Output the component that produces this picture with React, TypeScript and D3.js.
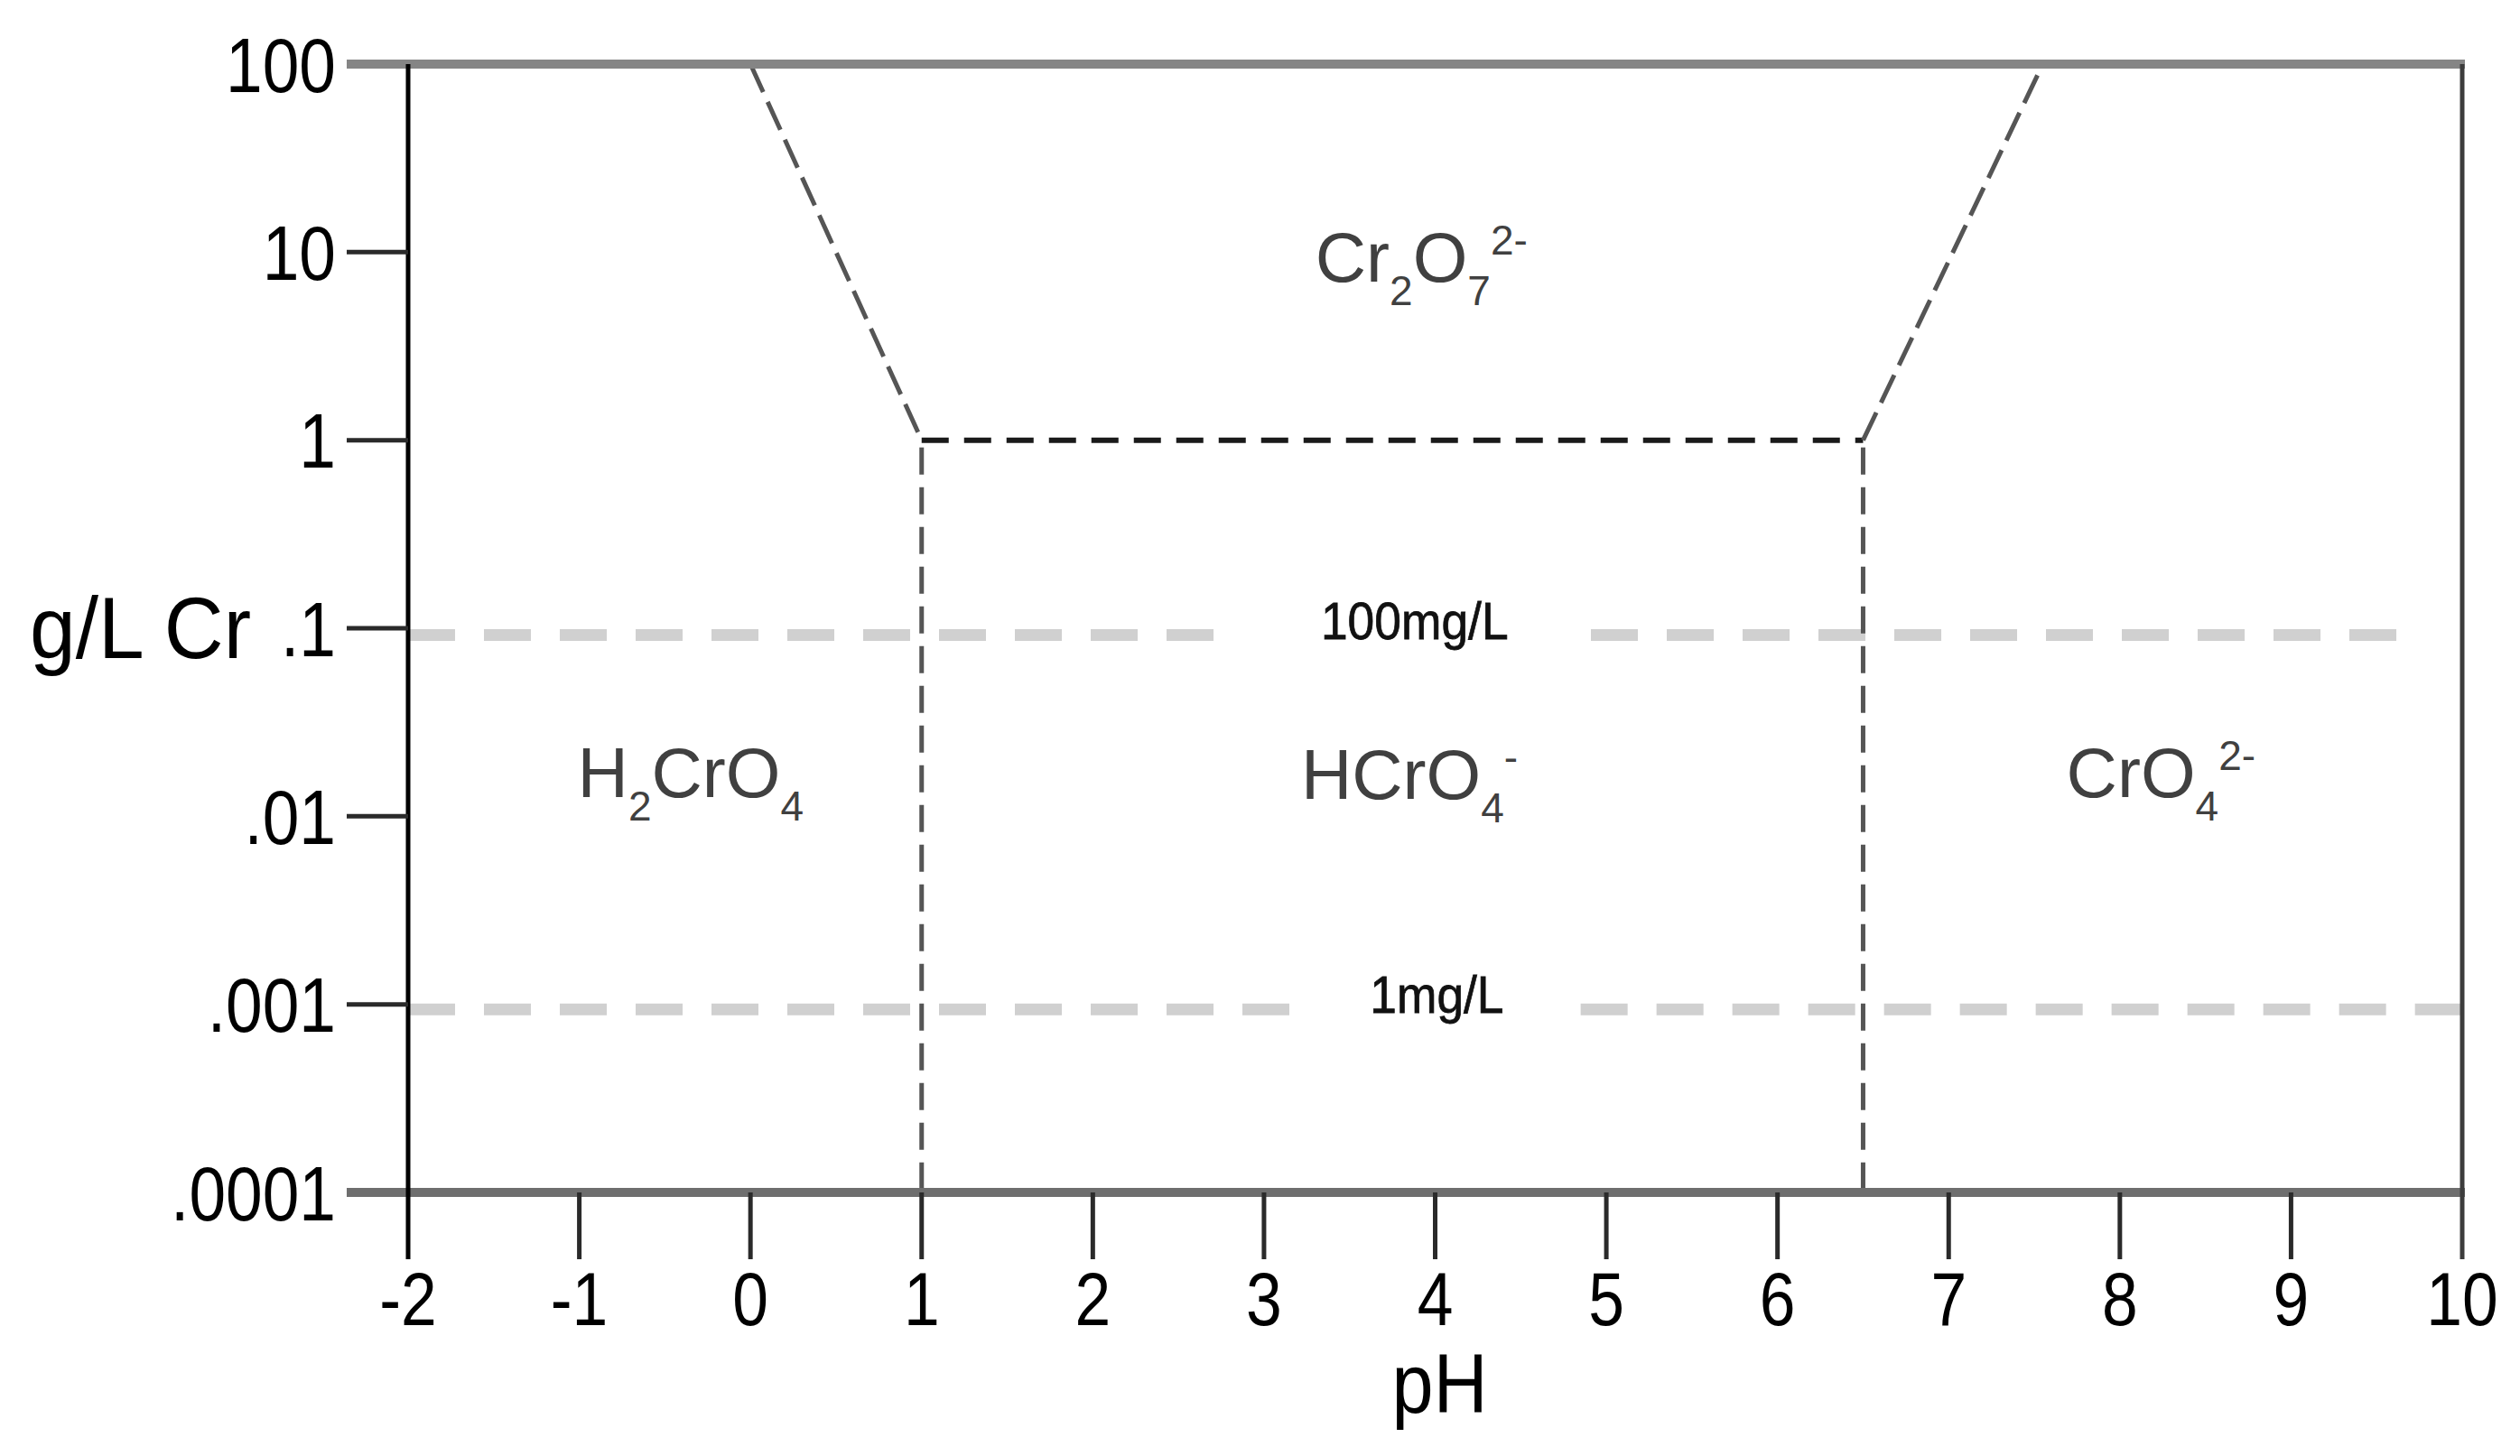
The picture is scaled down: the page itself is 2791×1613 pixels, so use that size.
import { scaleLinear, scaleLog } from "d3";

// axis ticks
const phTicks = [-2, -1, 0, 1, 2, 3, 4, 5, 6, 7, 8, 9, 10];
const concTicks = [100, 10, 1, 0.1, 0.01, 0.001, 0.0001];
const concLabels = ["100", "10", "1", ".1", ".01", ".001", ".0001"];

// Cr2O7 field boundary (pH, g/L Cr)
const dichromateEdge: [number, number][] = [
  [0, 100],
  [1, 1],
  [6.5, 1],
  [7.55, 100],
];
// vertical boundaries below 1 g/L
const acidEdges = [1, 6.5];
const acidEdgeTop = 1;
const acidEdgeBottom = 0.0001;

// reference concentration lines
const refLevels = [0.092, 0.00094];
const refLabels = ["100mg/L", "1mg/L"];
const refLabelPh = [3.88, 4.01];
const refSegments: [number, number][][] = [
  [
    [-2, 2.83],
    [4.91, 9.77],
  ],
  [
    [-2, 3.26],
    [4.85, 10.08],
  ],
];

// species labels: text parts ("" normal, "sub", "sup"), pH and g/L of baseline
const speciesParts: [string, string][][] = [
  [["H", ""], ["2", "sub"], ["CrO", ""], ["4", "sub"]],
  [["HCrO", ""], ["4", "sub"], ["-", "sup"]],
  [["CrO", ""], ["4", "sub"], ["2-", "sup"]],
  [["Cr", ""], ["2", "sub"], ["O", ""], ["7", "sub"], ["2-", "sup"]],
];
const speciesPh = [-0.35, 3.85, 8.24, 3.92];
const speciesConc = [0.0126, 0.0124, 0.0126, 6.97];

const W = 2791;
const H = 1613;
const font = "'Liberation Sans', Arial, Helvetica, sans-serif";

const Formula = ({ parts, x, y }: { parts: [string, string][]; x: number; y: number }) => {
  let shift = 0;
  return (
    <text x={x} y={y} textAnchor="middle" fontSize={78} fill="#404040">
      {parts.map(([t, kind], i) => {
        const target = kind === "sub" ? 26 : kind === "sup" ? -30 : 0;
        const dy = target - shift;
        shift = target;
        return (
          <tspan key={i} dy={dy} fontSize={kind ? 46 : 78}>
            {t}
          </tspan>
        );
      })}
    </text>
  );
};

export default function App() {
  const x = scaleLinear().domain([-2, 10]).range([452, 2727]);
  const y = scaleLog().domain([0.0001, 100]).range([1321, 71]);

  const left = x(-2);
  const right = x(10);
  const top = y(100);
  const bottom = y(0.0001);
  const yTickLen = 68;
  const xTickLen = 74;

  const pts = dichromateEdge.map(([p, c]) => [x(p), y(c)]);

  return (
    <svg
      width={W}
      height={H}
      style={{ position: "absolute", left: 0, top: 0, background: "#fff" }}
      fontFamily={font}
    >
      {/* reference levels */}
      {refLevels.map((c, i) =>
        refSegments[i].map(([a, b], j) => (
          <line
            key={`r${i}-${j}`}
            x1={x(a)}
            x2={x(b)}
            y1={y(c)}
            y2={y(c)}
            stroke="#d0d0d0"
            strokeWidth={13}
            strokeDasharray="52 32"
          />
        ))
      )}
      {refLabels.map((t, i) => (
        <text
          key={t}
          transform={`translate(${x(refLabelPh[i])},${y(refLevels[i]) + 4}) scale(0.92,1)`}
          textAnchor="middle"
          fontSize={58}
          stroke="#111"
          strokeWidth={0.8}
          fill="#111"
        >
          {t}
        </text>
      ))}

      {/* field boundaries */}
      {pts.slice(0, -1).map(([x1, y1], i) => {
        const [x2, y2] = pts[i + 1];
        const flat = y1 === y2;
        return (
          <line
            key={`e${i}`}
            x1={x1}
            y1={y1}
            x2={x2}
            y2={y2}
            stroke={flat ? "#1a1a1a" : "#555"}
            strokeWidth={flat ? 6 : 5}
            strokeDasharray={flat ? "30 17" : "34 12"}
          />
        );
      })}
      {acidEdges.map((p) => (
        <line
          key={`v${p}`}
          x1={x(p)}
          x2={x(p)}
          y1={y(acidEdgeTop) + 8}
          y2={y(acidEdgeBottom)}
          stroke="#555"
          strokeWidth={5}
          strokeDasharray="30 14"
        />
      ))}

      {/* frame */}
      <line x1={left - yTickLen} x2={right + 3} y1={top} y2={top} stroke="#858585" strokeWidth={10} />
      <line x1={left - yTickLen} x2={right + 3} y1={bottom} y2={bottom} stroke="#6e6e6e" strokeWidth={10} />
      <line x1={left} x2={left} y1={top} y2={bottom + xTickLen} stroke="#000" strokeWidth={5} />
      <line x1={right} x2={right} y1={top} y2={bottom + xTickLen} stroke="#3c3c3c" strokeWidth={5} />

      {/* y ticks */}
      {concTicks.slice(1, -1).map((c) => (
        <line key={`yt${c}`} x1={left - yTickLen} x2={left} y1={y(c)} y2={y(c)} stroke="#2a2a2a" strokeWidth={5} />
      ))}
      {concTicks.map((c, i) => (
        <text
          key={`yl${c}`}
          transform={`translate(${left - 80},${y(c)}) scale(0.86,1)`}
          textAnchor="end"
          dy="0.36em"
          fontSize={85}
          fill="#000"
        >
          {concLabels[i]}
        </text>
      ))}

      {/* x ticks */}
      {phTicks.slice(1, -1).map((p) => (
        <line key={`xt${p}`} x1={x(p)} x2={x(p)} y1={bottom} y2={bottom + xTickLen} stroke="#2a2a2a" strokeWidth={5} />
      ))}
      {phTicks.map((p) => (
        <text
          key={`xl${p}`}
          transform={`translate(${x(p)},${bottom + 147}) scale(0.85,1)`}
          textAnchor="middle"
          fontSize={84}
          fill="#000"
        >
          {p}
        </text>
      ))}

      {/* axis titles */}
      <text transform={`translate(${(left + right) / 2 + 5},${bottom + 244}) scale(0.9,1)`} textAnchor="middle" fontSize={92} fill="#000">
        pH
      </text>
      <text transform={`translate(278,${y(0.1) + 33}) scale(0.95,1)`} textAnchor="end" fontSize={96} fill="#000">
        g/L Cr
      </text>

      {/* species */}
      {speciesParts.map((parts, i) => (
        <Formula key={i} parts={parts} x={x(speciesPh[i])} y={y(speciesConc[i])} />
      ))}
    </svg>
  );
}
